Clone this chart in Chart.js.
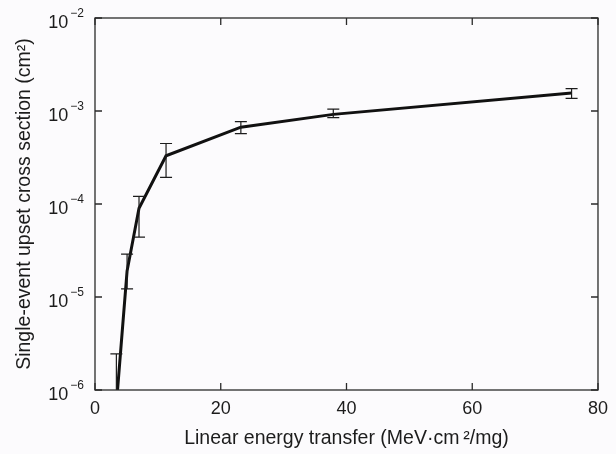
<!DOCTYPE html>
<html lang="en">
<head>
<meta charset="UTF-8">
<title>Single-event upset cross section vs LET</title>
<script src="https://cdn.jsdelivr.net/npm/chart.js"></script>
<style>
    html, body {
        margin: 0;
        padding: 0;
        background: #fcfbfd;
    }
    #chart-box {
        width: 616px;
        height: 454px;
    }
</style>
</head>
<body>
<div id="chart-box">
    <canvas id="seuChart" width="616" height="454"></canvas>
</div>

<script>
    // LET (MeV·cm²/mg)
    var letValues = [3.4, 5.1, 7.0, 11.3, 23.2, 37.9, 75.8];
    // cross section (cm²)
    var crossSection = [7e-7, 1.9e-5, 9.0e-5, 3.3e-4, 6.7e-4, 9.2e-4, 1.56e-3];
    // error bar ends
    var errLow = [2e-7, 1.22e-5, 4.4e-5, 1.93e-4, 5.7e-4, 8.5e-4, 1.37e-3];
    var errHigh = [2.44e-6, 2.89e-5, 1.21e-4, 4.47e-4, 7.7e-4, 1.05e-3, 1.74e-3];

    // axis ticks
    var xTicks = [0, 20, 40, 60, 80];
    var yTicks = [1e-6, 1e-5, 1e-4, 1e-3, 1e-2];

    var FONT = '"Liberation Sans", Arial, Helvetica, sans-serif';
    var INK = '#1c1c1c';

    var points = letValues.map(function (v, i) {
        return { x: v, y: crossSection[i] };
    });

    // error bars, box and inward ticks, y labels with exponents
    var framePlugin = {
        id: 'frame',
        afterDatasetsDraw: function (chart) {
            var ctx = chart.ctx;
            var a = chart.chartArea;
            var xs = chart.scales.x;
            var ys = chart.scales.y;

            // error bars
            ctx.save();
            ctx.beginPath();
            ctx.rect(a.left, a.top, a.right - a.left, a.bottom - a.top);
            ctx.clip();
            ctx.strokeStyle = INK;
            ctx.lineWidth = 1.2;
            for (var i = 0; i < letValues.length; i++) {
                var px = xs.getPixelForValue(letValues[i]);
                var yHi = ys.getPixelForValue(errHigh[i]);
                var yLo = ys.getPixelForValue(errLow[i]);
                ctx.beginPath();
                ctx.moveTo(px, yHi);
                ctx.lineTo(px, yLo);
                ctx.moveTo(px - 6, yHi);
                ctx.lineTo(px + 6, yHi);
                ctx.moveTo(px - 6, yLo);
                ctx.lineTo(px + 6, yLo);
                ctx.stroke();
            }
            ctx.restore();

            // box
            ctx.save();
            ctx.strokeStyle = '#2a2a2a';
            ctx.lineWidth = 1.3;
            ctx.strokeRect(a.left, a.top, a.right - a.left, a.bottom - a.top);

            // inward ticks
            var tl = 7;
            ctx.beginPath();
            xTicks.forEach(function (t) {
                var x = xs.getPixelForValue(t);
                ctx.moveTo(x, a.bottom);
                ctx.lineTo(x, a.bottom - tl);
                ctx.moveTo(x, a.top);
                ctx.lineTo(x, a.top + tl);
            });
            yTicks.forEach(function (t) {
                var y = ys.getPixelForValue(t);
                ctx.moveTo(a.left, y);
                ctx.lineTo(a.left + tl, y);
                ctx.moveTo(a.right, y);
                ctx.lineTo(a.right - tl, y);
            });
            ctx.stroke();

            // y tick labels: 10 with superscript exponent
            ctx.fillStyle = INK;
            ctx.textAlign = 'right';
            ctx.textBaseline = 'alphabetic';
            var rightEdge = a.left - 11;
            yTicks.forEach(function (t) {
                var y = ys.getPixelForValue(t);
                var ex = '\u2212' + Math.abs(Math.round(Math.log10(t)));
                ctx.font = '12px ' + FONT;
                var w = ctx.measureText(ex).width;
                ctx.fillText(ex, rightEdge, y - 1);
                ctx.font = '18px ' + FONT;
                ctx.fillText('10', rightEdge - w - 2, y + 10);
            });
            ctx.restore();
        }
    };

    var ctx = document.getElementById('seuChart').getContext('2d');
    var seuChart = new Chart(ctx, {
        type: 'line',
        data: {
            datasets: [{
                label: 'SEU cross section',
                data: points,
                borderColor: '#111111',
                borderWidth: 3,
                pointRadius: 0,
                fill: false,
                tension: 0
            }]
        },
        options: {
            responsive: false,
            animation: false,
            layout: {
                padding: { top: 18, right: 14, left: 0, bottom: 0 }
            },
            plugins: {
                legend: { display: false },
                tooltip: { enabled: false }
            },
            scales: {
                x: {
                    type: 'linear',
                    min: 0,
                    max: 80,
                    afterBuildTicks: function (scale) {
                        scale.ticks = xTicks.map(function (v) { return { value: v }; });
                    },
                    grid: { display: false, drawTicks: false },
                    border: { display: false },
                    ticks: {
                        color: INK,
                        padding: 8,
                        maxRotation: 0,
                        font: { family: FONT, size: 18 }
                    },
                    title: {
                        display: true,
                        text: 'Linear energy transfer (MeV\u00b7cm\u2009\u00b2/mg)',
                        color: INK,
                        font: { family: FONT, size: 19.5 },
                        padding: { top: 0, bottom: 4 }
                    },
                    afterFit: function (scale) {
                        scale.height = 64;
                    }
                },
                y: {
                    type: 'logarithmic',
                    min: 1e-6,
                    max: 1e-2,
                    grid: { display: false, drawTicks: false },
                    border: { display: false },
                    ticks: {
                        callback: function () { return ''; }
                    },
                    title: {
                        display: true,
                        text: 'Single-event upset cross section (cm\u00b2)',
                        color: INK,
                        font: { family: FONT, size: 19.5 },
                        padding: { top: 13, bottom: 0 }
                    },
                    afterFit: function (scale) {
                        scale.width = 95;
                    }
                }
            }
        },
        plugins: [framePlugin]
    });
</script>
</body>
</html>
